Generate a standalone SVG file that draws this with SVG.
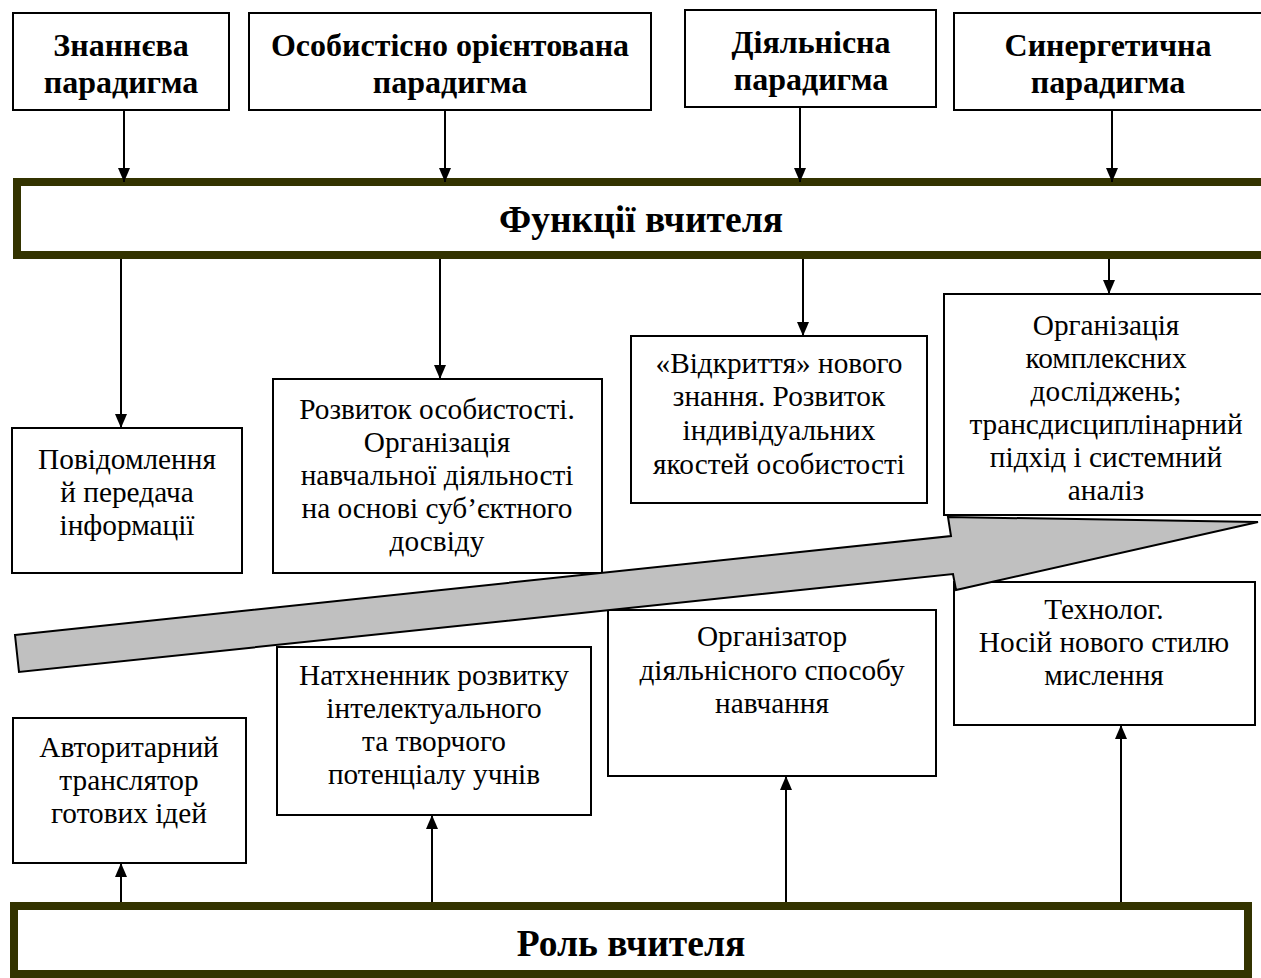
<svg xmlns="http://www.w3.org/2000/svg" width="1261" height="978" viewBox="0 0 1261 978">
<defs>
<style>
.box{fill:#fff;stroke:#000;stroke-width:2}
.bar{fill:#fff;stroke:#333300;stroke-width:8}
.tb{font-family:"Liberation Serif","Times New Roman",serif;font-weight:bold;font-size:32px;text-anchor:middle;fill:#000}
.tr{font-family:"Liberation Serif","Times New Roman",serif;font-size:29.3px;text-anchor:middle;fill:#000}
.tbar{font-family:"Liberation Serif","Times New Roman",serif;font-weight:bold;font-size:37.5px;text-anchor:middle;fill:#000}
.con{stroke:#000;stroke-width:2;fill:none;marker-end:url(#ah)}
.big{fill:#c0c0c0;stroke:#000;stroke-width:2;stroke-linejoin:miter}
</style>
<marker id="ah" viewBox="0 0 14 12" refX="14" refY="6" markerWidth="14" markerHeight="12" markerUnits="userSpaceOnUse" orient="auto">
<path d="M0,0 L14,6 L0,12 z" fill="#000"/>
</marker>
</defs>
<rect width="1261" height="978" fill="#fff"/>

<g id="funkcii">
<rect class="bar" x="17" y="182" width="1260" height="73"/>
<text class="tbar" x="641" y="232">Функції вчителя</text>
</g>

<g id="rol">
<rect class="bar" x="14" y="906" width="1234" height="68"/>
<text class="tbar" x="631" y="956">Роль вчителя</text>
</g>

<g id="p-znannieva">
<rect class="box" x="13" y="13" width="216" height="97"/>
<text class="tb" x="121" y="56">Знаннєва</text>
<text class="tb" x="121" y="93">парадигма</text>
</g>
<g id="p-osobystisno">
<rect class="box" x="249" y="13" width="402" height="97"/>
<text class="tb" x="450" y="56">Особистісно орієнтована</text>
<text class="tb" x="450" y="93">парадигма</text>
</g>
<g id="p-diialnisna">
<rect class="box" x="685" y="10" width="251" height="97"/>
<text class="tb" x="811" y="53">Діяльнісна</text>
<text class="tb" x="811" y="90">парадигма</text>
</g>
<g id="p-synerhetychna">
<rect class="box" x="954" y="13" width="310" height="97"/>
<text class="tb" x="1108" y="56">Синергетична</text>
<text class="tb" x="1108" y="93">парадигма</text>
</g>

<g id="f-povidomlennia">
<rect class="box" x="12" y="428" width="230" height="145"/>
<text class="tr" x="127" y="469">Повідомлення</text>
<text class="tr" x="127" y="502">й передача</text>
<text class="tr" x="127" y="535">інформації</text>
</g>
<g id="f-rozvytok">
<rect class="box" x="273" y="379" width="329" height="194"/>
<text class="tr" x="437" y="419">Розвиток особистості.</text>
<text class="tr" x="437" y="452">Організація</text>
<text class="tr" x="437" y="485">навчальної діяльності</text>
<text class="tr" x="437" y="518">на основі суб’єктного</text>
<text class="tr" x="437" y="551">досвіду</text>
</g>
<g id="f-vidkryttia">
<rect class="box" x="631" y="336" width="296" height="167"/>
<text class="tr" x="779" y="373">«Відкриття» нового</text>
<text class="tr" x="779" y="406">знання. Розвиток</text>
<text class="tr" x="779" y="440">індивідуальних</text>
<text class="tr" x="779" y="474">якостей особистості</text>
</g>
<g id="f-orhanizatsiia">
<rect class="box" x="944" y="294" width="324" height="221"/>
<text class="tr" x="1106" y="335">Організація</text>
<text class="tr" x="1106" y="368">комплексних</text>
<text class="tr" x="1106" y="401">досліджень;</text>
<text class="tr" x="1106" y="434">трансдисциплінарний</text>
<text class="tr" x="1106" y="467">підхід і системний</text>
<text class="tr" x="1106" y="500">аналіз</text>
</g>

<g id="r-avtorytarnyi">
<rect class="box" x="13" y="718" width="233" height="145"/>
<text class="tr" x="129" y="757">Авторитарний</text>
<text class="tr" x="129" y="790">транслятор</text>
<text class="tr" x="129" y="823">готових ідей</text>
</g>
<g id="r-natkhnennyk">
<rect class="box" x="277" y="647" width="314" height="168"/>
<text class="tr" x="434" y="685">Натхненник розвитку</text>
<text class="tr" x="434" y="718">інтелектуального</text>
<text class="tr" x="434" y="751">та творчого</text>
<text class="tr" x="434" y="784">потенціалу учнів</text>
</g>
<g id="r-orhanizator">
<rect class="box" x="608" y="610" width="328" height="166"/>
<text class="tr" x="772" y="646">Організатор</text>
<text class="tr" x="772" y="680">діяльнісного способу</text>
<text class="tr" x="772" y="713">навчання</text>
</g>
<g id="r-tekhnolog">
<rect class="box" x="954" y="582" width="301" height="143"/>
<text class="tr" x="1104" y="619">Технолог.</text>
<text class="tr" x="1104" y="652">Носій нового стилю</text>
<text class="tr" x="1104" y="685">мислення</text>
</g>

<g id="progress-arrow">
<polygon class="big" points="15,635 951,536 948,517 1258,522 956,590 953,574 19,672"/>
</g>

<g id="connectors">
<line class="con" x1="124" y1="110" x2="124" y2="182"/>
<line class="con" x1="445" y1="110" x2="445" y2="182"/>
<line class="con" x1="800" y1="107" x2="800" y2="182"/>
<line class="con" x1="1112" y1="110" x2="1112" y2="182"/>
<line class="con" x1="121" y1="259" x2="121" y2="428"/>
<line class="con" x1="440" y1="259" x2="440" y2="379"/>
<line class="con" x1="803" y1="259" x2="803" y2="336"/>
<line class="con" x1="1109" y1="259" x2="1109" y2="294"/>
<line class="con" x1="121" y1="902" x2="121" y2="863"/>
<line class="con" x1="432" y1="902" x2="432" y2="815"/>
<line class="con" x1="786" y1="902" x2="786" y2="776"/>
<line class="con" x1="1121" y1="902" x2="1121" y2="725"/>
</g>
</svg>
